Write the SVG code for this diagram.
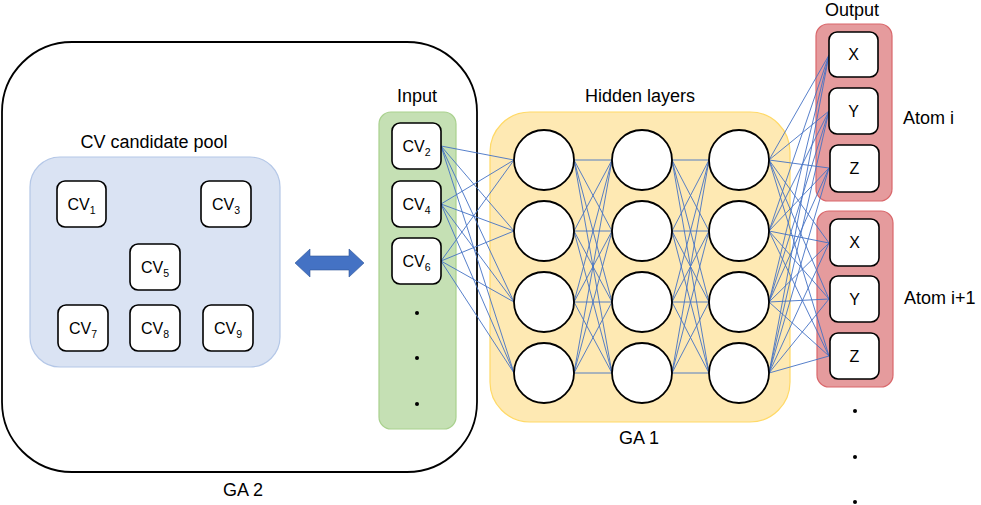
<svg xmlns="http://www.w3.org/2000/svg" width="981" height="505" viewBox="0 0 981 505">
<style>
text{font-family:"Liberation Sans",Arial,sans-serif;fill:#000}
.lbl{font-size:18px;text-anchor:middle}
.cv{font-size:16px;text-anchor:middle}
.sub{font-size:10.5px}
.box{fill:#fff;stroke:#000;stroke-width:1.6}
.neuron{fill:#fff;stroke:#000;stroke-width:1.8}
.conn line{stroke:#4472c4;stroke-width:0.9}
</style>
<rect width="981" height="505" fill="#fff"/>
<g id="ga2">
<rect x="2" y="42" width="475" height="430" rx="70" fill="#fff" stroke="#000" stroke-width="1.8"/>
<text class="lbl" x="243" y="496">GA 2</text>
</g>
<g id="pool">
<rect x="30" y="157" width="250" height="210" rx="30" fill="#dae3f3" stroke="#b4c7e7" stroke-width="1.2"/>
<text class="lbl" x="154" y="148">CV candidate pool</text>
</g>
<g id="input">
<rect x="379" y="112" width="77" height="317" rx="12" fill="#c5e0b4" stroke="#a9d18e" stroke-width="1.2"/>
<text class="lbl" x="417" y="102">Input</text>
<circle cx="417" cy="313" r="2"/><circle cx="417" cy="358" r="2"/><circle cx="417" cy="404" r="2"/>
</g>
<g id="hidden">
<rect x="490" y="112" width="300" height="310" rx="40" fill="#fee9b3" stroke="#ffd966" stroke-width="1.2"/>
<text class="lbl" x="640" y="102">Hidden layers</text>
<text class="lbl" x="639" y="444">GA 1</text>
</g>
<g id="atom-i">
<rect x="816" y="24" width="76" height="177" rx="12" fill="#e59b9d" stroke="#d9676b" stroke-width="1.2"/>
<text class="lbl" x="852" y="16">Output</text>
<text x="903" y="124" style="font-size:18px">Atom i</text>
</g>
<g id="atom-i1">
<rect x="817" y="211" width="76" height="176" rx="12" fill="#e59b9d" stroke="#d9676b" stroke-width="1.2"/>
<text x="904" y="304" style="font-size:18px">Atom i+1</text>
<circle cx="855" cy="411" r="2"/><circle cx="855" cy="457" r="2"/><circle cx="855" cy="502" r="2"/>
</g>
<g id="arrow">
<path d="M295,263 L310,249 L310,256 L349,256 L349,249 L364,263 L349,277 L349,270 L310,270 L310,277 Z" fill="#4472c4" stroke="#2f5597" stroke-width="0.6"/>
</g>
<g id="connectors" class="conn">
<line x1="441" y1="146" x2="514" y2="160"/><line x1="441" y1="146" x2="514" y2="231"/><line x1="441" y1="146" x2="514" y2="302"/><line x1="441" y1="146" x2="514" y2="373"/>
<line x1="441" y1="204" x2="514" y2="160"/><line x1="441" y1="204" x2="514" y2="231"/><line x1="441" y1="204" x2="514" y2="302"/><line x1="441" y1="204" x2="514" y2="373"/>
<line x1="441" y1="261" x2="514" y2="160"/><line x1="441" y1="261" x2="514" y2="231"/><line x1="441" y1="261" x2="514" y2="302"/><line x1="441" y1="261" x2="514" y2="373"/>
<line x1="574" y1="160" x2="612" y2="160"/><line x1="574" y1="160" x2="612" y2="231"/><line x1="574" y1="160" x2="612" y2="302"/><line x1="574" y1="160" x2="612" y2="373"/>
<line x1="574" y1="231" x2="612" y2="160"/><line x1="574" y1="231" x2="612" y2="231"/><line x1="574" y1="231" x2="612" y2="302"/><line x1="574" y1="231" x2="612" y2="373"/>
<line x1="574" y1="302" x2="612" y2="160"/><line x1="574" y1="302" x2="612" y2="231"/><line x1="574" y1="302" x2="612" y2="302"/><line x1="574" y1="302" x2="612" y2="373"/>
<line x1="574" y1="373" x2="612" y2="160"/><line x1="574" y1="373" x2="612" y2="231"/><line x1="574" y1="373" x2="612" y2="302"/><line x1="574" y1="373" x2="612" y2="373"/>
<line x1="672" y1="160" x2="709" y2="160"/><line x1="672" y1="160" x2="709" y2="231"/><line x1="672" y1="160" x2="709" y2="302"/><line x1="672" y1="160" x2="709" y2="373"/>
<line x1="672" y1="231" x2="709" y2="160"/><line x1="672" y1="231" x2="709" y2="231"/><line x1="672" y1="231" x2="709" y2="302"/><line x1="672" y1="231" x2="709" y2="373"/>
<line x1="672" y1="302" x2="709" y2="160"/><line x1="672" y1="302" x2="709" y2="231"/><line x1="672" y1="302" x2="709" y2="302"/><line x1="672" y1="302" x2="709" y2="373"/>
<line x1="672" y1="373" x2="709" y2="160"/><line x1="672" y1="373" x2="709" y2="231"/><line x1="672" y1="373" x2="709" y2="302"/><line x1="672" y1="373" x2="709" y2="373"/>
<line x1="769" y1="160" x2="829" y2="55"/><line x1="769" y1="160" x2="829" y2="111"/><line x1="769" y1="160" x2="829" y2="168"/><line x1="769" y1="160" x2="829" y2="243"/><line x1="769" y1="160" x2="829" y2="299"/><line x1="769" y1="160" x2="829" y2="356"/>
<line x1="769" y1="231" x2="829" y2="55"/><line x1="769" y1="231" x2="829" y2="111"/><line x1="769" y1="231" x2="829" y2="168"/><line x1="769" y1="231" x2="829" y2="243"/><line x1="769" y1="231" x2="829" y2="299"/><line x1="769" y1="231" x2="829" y2="356"/>
<line x1="769" y1="302" x2="829" y2="55"/><line x1="769" y1="302" x2="829" y2="111"/><line x1="769" y1="302" x2="829" y2="168"/><line x1="769" y1="302" x2="829" y2="243"/><line x1="769" y1="302" x2="829" y2="299"/><line x1="769" y1="302" x2="829" y2="356"/>
<line x1="769" y1="373" x2="829" y2="55"/><line x1="769" y1="373" x2="829" y2="111"/><line x1="769" y1="373" x2="829" y2="168"/><line x1="769" y1="373" x2="829" y2="243"/><line x1="769" y1="373" x2="829" y2="299"/><line x1="769" y1="373" x2="829" y2="356"/>
</g>
<g id="cv1"><rect class="box" x="57" y="181" width="49" height="46" rx="8"/><text class="cv" x="81.5" y="210">CV<tspan class="sub" dy="4">1</tspan></text></g>
<g id="cv3"><rect class="box" x="201" y="181" width="50" height="46" rx="8"/><text class="cv" x="226" y="210">CV<tspan class="sub" dy="4">3</tspan></text></g>
<g id="cv5"><rect class="box" x="130" y="244" width="50" height="46" rx="8"/><text class="cv" x="155" y="273">CV<tspan class="sub" dy="4">5</tspan></text></g>
<g id="cv7"><rect class="box" x="58" y="305" width="50" height="46" rx="8"/><text class="cv" x="83" y="334">CV<tspan class="sub" dy="4">7</tspan></text></g>
<g id="cv8"><rect class="box" x="130" y="305" width="50" height="46" rx="8"/><text class="cv" x="155" y="334">CV<tspan class="sub" dy="4">8</tspan></text></g>
<g id="cv9"><rect class="box" x="203" y="305" width="50" height="46" rx="8"/><text class="cv" x="228" y="334">CV<tspan class="sub" dy="4">9</tspan></text></g>
<g id="cv2"><rect class="box" x="392" y="123" width="49" height="46" rx="8"/><text class="cv" x="416.5" y="152">CV<tspan class="sub" dy="4">2</tspan></text></g>
<g id="cv4"><rect class="box" x="392" y="181" width="49" height="46" rx="8"/><text class="cv" x="416.5" y="210">CV<tspan class="sub" dy="4">4</tspan></text></g>
<g id="cv6"><rect class="box" x="392" y="238" width="49" height="46" rx="8"/><text class="cv" x="416.5" y="267">CV<tspan class="sub" dy="4">6</tspan></text></g>
<g id="neurons">
<circle class="neuron" cx="544" cy="160" r="30"/><circle class="neuron" cx="544" cy="231" r="30"/><circle class="neuron" cx="544" cy="302" r="30"/><circle class="neuron" cx="544" cy="373" r="30"/>
<circle class="neuron" cx="642" cy="160" r="30"/><circle class="neuron" cx="642" cy="231" r="30"/><circle class="neuron" cx="642" cy="302" r="30"/><circle class="neuron" cx="642" cy="373" r="30"/>
<circle class="neuron" cx="739" cy="160" r="30"/><circle class="neuron" cx="739" cy="231" r="30"/><circle class="neuron" cx="739" cy="302" r="30"/><circle class="neuron" cx="739" cy="373" r="30"/>
</g>
<g id="out-x1"><rect class="box" x="829" y="32" width="49" height="45" rx="8"/><text class="cv" x="853.5" y="60">X</text></g>
<g id="out-y1"><rect class="box" x="829" y="88" width="49" height="46" rx="8"/><text class="cv" x="853.5" y="117">Y</text></g>
<g id="out-z1"><rect class="box" x="830" y="145" width="49" height="47" rx="8"/><text class="cv" x="854.5" y="174">Z</text></g>
<g id="out-x2"><rect class="box" x="830" y="219" width="49" height="47" rx="8"/><text class="cv" x="854.5" y="248">X</text></g>
<g id="out-y2"><rect class="box" x="830" y="276" width="49" height="46" rx="8"/><text class="cv" x="854.5" y="305">Y</text></g>
<g id="out-z2"><rect class="box" x="830" y="333" width="49" height="46" rx="8"/><text class="cv" x="854.5" y="362">Z</text></g>
</svg>
